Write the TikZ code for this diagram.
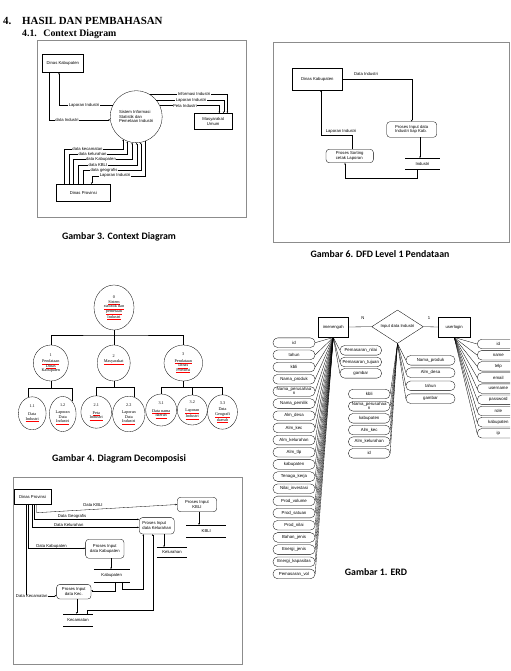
\documentclass[tikz,border=0pt]{standalone}
\usepackage{fontspec}
\setmainfont{Liberation Serif}
\setsansfont{Liberation Sans}
\newfontfamily\capfont{Carlito}
\usetikzlibrary{shapes.geometric,arrows.meta}
\newcommand{\spellmark}[1]{{\color{red}\underline{\color{black}#1}}}

\begin{document}
\begin{tikzpicture}[x=0.5mm, y=-0.5mm, line width=0.45pt,
  frame/.style={draw=black!45, line width=0.6pt},
  sf/.style={font=\sffamily\fontsize{6}{6.6}\selectfont},
  ent/.style={draw, rectangle, inner sep=0.5pt, sf},
  proc/.style={draw, rounded corners=1.6mm, inner sep=0.5pt, align=left, sf},
  bubble/.style={draw, ellipse, inner sep=0pt, align=center, font=\rmfamily\fontsize{6}{6.4}\selectfont},
  attr/.style={draw, rounded corners=2.3mm, minimum height=4.8mm, inner sep=0pt, align=center, font=\sffamily\fontsize{6.2}{5.6}\selectfont},
  flow/.style={-{Stealth[length=2.6pt,width=2.2pt]}},
  flowlbl/.style={fill=white, inner sep=0.5pt, sf},
  plainlbl/.style={inner sep=0.5pt, sf},
  caption/.style={font=\capfont\bfseries\fontsize{14}{16}\selectfont}]

\useasboundingbox (0,0) rectangle (510,671);
\clip (0,0) rectangle (510,671);

% === HEADING ===
\node[anchor=base west, inner sep=0pt, font=\bfseries\fontsize{15.5}{17}\selectfont] (num) at (3,25) {4.};
\node[anchor=base west, inner sep=0pt, font=\bfseries\fontsize{15.5}{17}\selectfont] (head) at (22,25) {HASIL DAN PEMBAHASAN};
\node[anchor=base west, inner sep=0pt, font=\bfseries\fontsize{14}{16}\selectfont] (subnum) at (22,37) {4.1.};
\node[anchor=base west, inner sep=0pt, font=\bfseries\fontsize{14}{16}\selectfont] (subhead) at (43.3,37) {Context Diagram};

% === CONTEXT DIAGRAM ===
\draw[frame] (37,40) rectangle (246,217);
\node[ent, minimum width=20.5mm, minimum height=9mm] (kab1) at (62.8,63.3) {Dinas Kabupaten};
\node[draw, circle, minimum size=26mm, inner sep=0pt, align=left, sf] (sis) at (136.2,116.7) {Sistem Informasi\\Statistik dan\\Pemetaan Industri};
\node[ent, minimum width=19.2mm, minimum height=7.8mm, align=center] (mas) at (213.2,121.2) {Masyarakat\\Umum};
\node[ent, minimum width=26.7mm, minimum height=8.2mm] (prov1) at (83.3,192.5) {Dinas Provinsi};

\draw[flow] (sis.154) -| (59,0 |- kab1.south);
\draw[flow] (49.3,0 |- kab1.south) |- (sis.187);
\draw[flow] (sis.59) -| (227.3,0 |- mas.north);
\draw[flow] (sis.40) -| (223.7,0 |- mas.north);
\draw[flow] (sis.25) -| (219.3,0 |- mas.north);
\foreach \xa/\yl/\ang in {64.3/149/-120, 69/154.3/-110, 73.3/159/-99, 78.3/165/-89, 83.3/170/-80}
  \draw[flow] (\xa,0 |- prov1.north) -- (\xa,\yl) -| (sis.\ang);
\draw[flow] (sis.-70) |- (91.7,175.7) -- (91.7,0 |- prov1.north);

\node[flowlbl] (c1) at (84,105.3) {Laporan Industri};
\node[flowlbl] (c2) at (67,120) {data Industri};
\node[flowlbl] (c3) at (194,94.3) {Informasi Industri};
\node[flowlbl] (c4) at (191,100) {Laporan Industri};
\node[flowlbl] (c5) at (185,105.7) {Peta Industri};
\node[flowlbl] (c6) at (87.5,149) {data kecamatan};
\node[flowlbl] (c7) at (92.5,154.3) {data kelurahan};
\node[flowlbl] (c8) at (101,159) {data Kabupaten};
\node[flowlbl] (c9) at (98,165) {data KBLI};
\node[flowlbl] (c10) at (104,170) {data geografis};
\node[flowlbl] (c11) at (115,175.7) {Laporan Industri};

\node[caption] (cap3) at (119,237) {Gambar 3. Context Diagram};

% === DFD LEVEL 1 ===
\draw[frame] (273.3,42.7) rectangle (509.3,242.3);
\node[ent, minimum width=25mm, minimum height=10.8mm] (kab2) at (317.3,79.2) {Dinas Kabupaten};
\node[proc, minimum width=25mm, minimum height=7.8mm] (pin) at (411.7,129.5) {Proses Input data\\Industri tiap Kab.};
\node[proc, minimum width=23.7mm, minimum height=6.7mm] (psort) at (349.7,156) {Proses Sorting\\cetak Laporan};
\node[plainlbl, minimum width=17mm, minimum height=5.5mm] (ind) at (422.5,163.8) {Industri};
\draw (ind.north west) -- (ind.north east) (ind.south west) -- (ind.south east);

\draw[flow] (kab2.east) -| (pin.north);
\draw[flow] (420,0 |- pin.south) -- (420,0 |- ind.north);
\draw[flow] (416.7,0 |- ind.south) -- (416.7,178.3) -| (345,0 |- psort.south);
\draw[flow] (351.7,0 |- psort.north) -- (351.7,135) -| (321,0 |- kab2.south);
\node[plainlbl] (d1) at (366,73.5) {Data Industri};
\node[plainlbl] (d2) at (341,131) {Laporan Industri};

\node[caption] (cap6) at (380,254) {Gambar 6. DFD Level 1 Pendataan};

% === DIAGRAM DECOMPOSISI ===
\node[bubble, minimum width=20mm, minimum height=22.5mm] (e0) at (114,307.5) {0\\[1pt]\spellmark{Sistem}\\\spellmark{statistik dan}\\\spellmark{pemetaan}\\\spellmark{Industri}};
\node[bubble, minimum width=17.5mm, minimum height=18mm] (e1) at (50.8,363) {1\\[3pt]\spellmark{Pendataan}\\\spellmark{Dinas}\\Kabupaten};
\node[bubble, minimum width=16.5mm, minimum height=18mm] (e2) at (113.7,363) {2\\\spellmark{Masyarakat}\\[6pt]};
\node[bubble, minimum width=19.3mm, minimum height=18mm] (e3) at (183.3,363) {3\\[3pt]\spellmark{Pendataan}\\\spellmark{Dinas}\\\spellmark{Provinsi}};
\node[bubble, minimum width=13.9mm, minimum height=16.5mm] (e11) at (32.2,413.3) {1.1\\[5pt]Data\\\spellmark{Industri}};
\node[bubble, minimum width=13.4mm, minimum height=17.5mm] (e12) at (62.7,414) {1.2\\[4pt]Laporan\\Data\\\spellmark{Industri}};
\node[bubble, minimum width=15.4mm, minimum height=16.2mm] (e21) at (96.3,412) {2.1\\[5pt]\spellmark{Peta}\\\spellmark{Industri}};
\node[bubble, minimum width=16.2mm, minimum height=17.8mm] (e22) at (128.8,414) {2.2\\[4pt]Laporan\\Data\\\spellmark{Industri}};
\node[bubble, minimum width=15.5mm, minimum height=16mm] (e31) at (161.2,410) {3.1\\[5pt]\spellmark{Data nama}\\\spellmark{daerah}};
\node[bubble, minimum width=15mm, minimum height=15mm] (e32) at (192.3,410) {3.2\\[5pt]\spellmark{Laporan}\\\spellmark{Industri}};
\node[bubble, minimum width=14.9mm, minimum height=17.2mm] (e33) at (222.5,412) {3.3\\[3pt]Data\\\spellmark{Geografi}\\\spellmark{daerah}};

\draw (e0.south) -- (e0.south |- e2.north);
\draw (e1.north) |- (e0.south |- 0,335) -| (e3.north);
\draw (e1.south) -- (e1.south |- 0,388.3);
\draw (e11.104) -- (e11.104 |- 0,388.3) -| (e12.55);
\draw (e2.south) -- (e2.south |- 0,386.7);
\draw (e21.north) |- (e2.south |- 0,386.7) -| (e22.72);
\draw (e3.south) -- (e3.south |- 0,386.7);
\draw (e31.north) |- (e3.south |- 0,386.7) -| (e33.north);
\draw (e32.north) -- (e32.north |- 0,386.7);

\node[caption] (cap4) at (119,459) {Gambar 4. Diagram Decomposisi};

% === DFD LEVEL 2 ===
\draw[frame] (13,477) rectangle (242,664);
\node[ent, minimum width=18.5mm, minimum height=7.5mm] (prov2) at (32.5,497) {Dinas Provinsi};
\node[proc, align=center, minimum width=19.7mm, minimum height=7.2mm] (pkbli) at (197,504.5) {Proses Input\\KBLI};
\node[proc, minimum width=17.5mm, minimum height=8.2mm] (pkel) at (156.8,525.8) {Proses Input\\data Kelurahan};
\node[proc, align=center, minimum width=19.2mm, minimum height=9.5mm] (pkab) at (104.8,548.8) {Proses Input\\data Kabupaten};
\node[proc, align=center, minimum width=17.2mm, minimum height=7.3mm] (pkec) at (73.8,591.7) {Proses Input\\data Kec.};

\node[plainlbl, minimum width=19.7mm, minimum height=5.8mm] (skbli) at (206.3,530.8) {KBLI};
\node[plainlbl, minimum width=15mm, minimum height=5mm] (skel) at (172,552.3) {Kelurahan};
\node[plainlbl, minimum width=17.7mm, minimum height=6.2mm] (skab) at (111.7,575.5) {Kabupaten};
\node[plainlbl, minimum width=14.7mm, minimum height=5.8mm] (skec) at (78,619.8) {Kecamatan};
\foreach \s in {skbli, skel, skab, skec}
  \draw (\s.north west) -- (\s.north east) (\s.south west) -- (\s.south east);

\draw[flow] (36.7,0 |- prov2.south) -- (36.7,512.7) -- (pkbli.west);
\draw[flow] (34,0 |- prov2.south) |- (pkel.west |- 0,519.3);
\draw[flow] (31.7,0 |- prov2.south) |- (pkel.west |- 0,527.3);
\draw[flow] (28.3,0 |- prov2.south) |- (pkab.west |- 0,548.3);
\draw[flow] (25.7,0 |- prov2.south) |- (pkec.west |- 0,595.7);
\draw[flow] (199,0 |- pkbli.south) -- (199,0 |- skbli.north);
\draw[flow] (164,0 |- pkel.south) -- (164,0 |- skel.north);
\draw[flow] (111,0 |- pkab.south) -- (111,0 |- skab.north);
\draw[flow] (115,0 |- skab.south) |- (pkec.east |- 0,590.7);
\draw[flow] (121.7,0 |- skab.south) -- (121.7,589) -| (143.3,0 |- pkel.south);
\draw[flow] (76.7,0 |- pkec.south) -- (76.7,0 |- skec.north);
\draw[flow] (86.7,0 |- skec.north) -- (86.7,610) -| (152.7,0 |- pkel.south);

\node[plainlbl] (f1) at (93,505) {Data KBLI};
\node[plainlbl] (f2) at (72,516) {Data Geografis};
\node[plainlbl] (f3) at (68.7,524.5) {Data Kelurahan};
\node[plainlbl] (f4) at (51.5,546) {Data Kabupaten};
\node[flowlbl] (f5) at (31.7,596.5) {Data Kecamatan};

% === ERD ===
\node[ent, minimum width=15mm, minimum height=10.3mm] (imen) at (333.3,327) {imenengah};
\node[draw, diamond, aspect=1.55, minimum width=25.8mm, minimum height=16.7mm, inner sep=0pt, sf] (rel) at (397.5,326.7) {Input data Industri};
\node[ent, minimum width=15.8mm, minimum height=10.3mm] (user) at (454.2,327) {userlogin};
\draw (imen.east) -- (rel.west);
\draw (rel.east) -- (user.west);
\node[plainlbl] (card1) at (363,317.7) {N};
\node[plainlbl] (card2) at (429,317.7) {1};

\foreach \t [count=\i from 0] in {id, tahun, kbli, Nama\_produk, Nama\_perusahaa\\n, Nama\_pemilik, Alm\_desa, Alm\_kec, Alm\_kelurahan, Alm\_tlp, kabupaten, Tenaga\_kerja, Nilai\_investasi, Prod\_volume, Prod\_satuan, Prod\_nilai, Bahan\_jenis, Energi\_jenis, Energi\_kapasitas, Pemasaran\_vol}{
  \node[attr, minimum width=21mm] (ma\i) at (294,{342.7+12.17*\i}) {\t};
  \draw (ma\i.east) -- (imen.south);
}
\foreach \t/\y [count=\i] in {Pemasaran\_nilai/350.3, Pemasaran\_tujuan/362, gambar/373.3}{
  \node[attr, minimum width=20.8mm] (mb\i) at (360.8,\y) {\t};
  \draw (imen.south) -- (mb\i.west);
}
\foreach \t/\y [count=\i] in {kbli/394, Nama\_perusahaa\\n/406.3, kabupaten/418.3, Alm\_kec/430, Alm\_kelurahan/441.7, id/453.3}{
  \node[attr, minimum width=20.8mm] (mc\i) at (369.2,\y) {\t};
  \draw (rel.south) -- (mc\i.east);
}
\foreach \t/\y [count=\i] in {Nama\_produk/360.3, Alm\_desa/372.7, tahun/385.8, gambar/398.7}{
  \node[attr, minimum width=24.5mm] (md\i) at (430.5,\y) {\t};
  \draw (rel.south) -- (md\i.west);
}
\foreach \t [count=\i from 0] in {id, name, telp, email, username, password, role, kabupaten, ip}{
  \node[attr, minimum width=21mm] (me\i) at (498.3,{344+11.16*\i}) {\t};
  \draw (user.south) -- (me\i.west);
}

\node[caption] (cap1) at (376,572) {Gambar 1. ERD};

\end{tikzpicture}
\end{document}
